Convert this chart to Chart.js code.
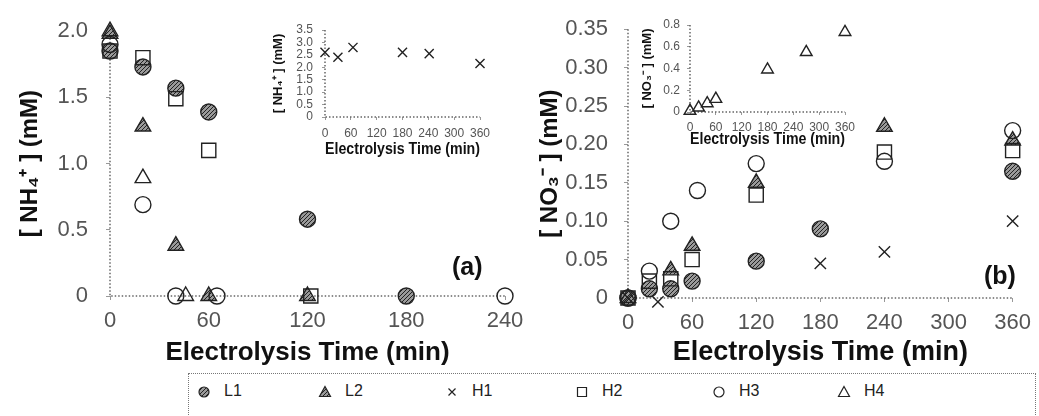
<!DOCTYPE html>
<html>
<head>
<meta charset="utf-8">
<script src="https://cdn.jsdelivr.net/npm/chart.js@4.4.1/dist/chart.umd.min.js"></script>
<style>
  body { margin: 0; background: #fff; }
  #wrap { position: relative; width: 1039px; height: 416px; overflow: hidden; font-family: "Liberation Sans", Arial, sans-serif; }
  #wrap canvas { position: absolute; }
  .tag { position: absolute; font-weight: bold; font-size: 25px; color: #111; line-height: 1; }
  #legend { position: absolute; left: 188px; top: 373px; width: 846px; height: 60px; border: 1.5px dotted #777; }
  #legend .item { position: absolute; top: 7px; height: 20px; font-size: 16px; line-height: 20px; color: #222; }
  #legend .item canvas { position: static; vertical-align: middle; margin-right: 13px; }
</style>
</head>
<body>
<div id="wrap">
  <canvas id="nh4" width="545" height="370" style="left:0;top:0"></canvas>
  <canvas id="no3" width="519" height="370" style="left:520px;top:0"></canvas>
  <canvas id="nh4in" width="235" height="150" style="left:265px;top:10px"></canvas>
  <canvas id="no3in" width="235" height="142" style="left:630px;top:8px"></canvas>
  <div class="tag" style="left:452px;top:254px">(a)</div>
  <div class="tag" style="left:984px;top:263px">(b)</div>
  <div id="legend"></div>
</div>
<script>
// panel (a): ammonium, mM vs. electrolysis time, min
var aL1_t = [0, 20, 40, 60, 120, 180];
var aL1_v = [1.85, 1.73, 1.57, 1.39, 0.58, 0];
var aL2_t = [0, 20, 40, 60, 120];
var aL2_v = [1.98, 1.28, 0.38, 0, 0];
var aH2_t = [0, 20, 40, 60, 122];
var aH2_v = [1.85, 1.8, 1.49, 1.1, 0];
var aH3_t = [0, 20, 40, 65, 240];
var aH3_v = [1.9, 0.69, 0, 0, 0];
var aH4_t = [0, 20, 46];
var aH4_v = [2.0, 0.89, 0];
// inset (a): H1 on its own scale
var aH1_t = [0, 30, 65, 180, 242, 360];
var aH1_v = [2.6, 2.4, 2.8, 2.6, 2.55, 2.15];

// panel (b): nitrate, mM
var bL1_t = [0, 20, 40, 60, 120, 180, 360];
var bL1_v = [0, 0.012, 0.012, 0.022, 0.048, 0.09, 0.165];
var bL2_t = [0, 40, 60, 120, 240, 360];
var bL2_v = [0, 0.036, 0.068, 0.15, 0.223, 0.205];
var bH1_t = [0, 28, 180, 240, 360];
var bH1_v = [0, -0.005, 0.045, 0.06, 0.1];
var bH2_t = [0, 20, 40, 60, 120, 240, 360];
var bH2_v = [0, 0.022, 0.025, 0.05, 0.134, 0.19, 0.192];
var bH3_t = [0, 20, 40, 65, 120, 240, 360];
var bH3_v = [0, 0.035, 0.1, 0.14, 0.175, 0.178, 0.218];
// inset (b): H4 on its own scale
var bH4_t = [0, 20, 40, 60, 180, 270, 360];
var bH4_v = [0.01, 0.04, 0.08, 0.12, 0.39, 0.55, 0.735];

var timeTicksA = [0, 60, 120, 180, 240];
var timeTicksB = [0, 60, 120, 180, 240, 300, 360];
var legendNames = ['L1', 'L2', 'H1', 'H2', 'H3', 'H4'];
var legendX = [196, 317, 444, 574, 711, 836];

Chart.defaults.font.family = '"Liberation Sans", Arial, sans-serif';

// grey halftone fill for the solid markers
function hatch() {
  var c = document.createElement('canvas');
  c.width = 4; c.height = 4;
  var g = c.getContext('2d');
  g.fillStyle = '#9a9a9a';
  g.fillRect(0, 0, 4, 4);
  g.fillStyle = '#222';
  for (var i = 0; i < 4; i++) g.fillRect(i, 3 - i, 1, 1);
  return g.createPattern(c, 'repeat');
}
var fill = hatch();

var styles = {
  L1: { pointStyle: 'circle', r: 8, bg: fill },
  L2: { pointStyle: 'triangle', r: 9, bg: fill },
  H1: { pointStyle: 'crossRot', r: 8, bg: 'rgba(0,0,0,0)' },
  H2: { pointStyle: 'rect', r: 10, bg: 'rgba(0,0,0,0)' },
  H3: { pointStyle: 'circle', r: 8, bg: 'rgba(0,0,0,0)' },
  H4: { pointStyle: 'triangle', r: 9, bg: 'rgba(0,0,0,0)' }
};

function series(name, t, v, scale) {
  var s = styles[name];
  return {
    label: name,
    data: t.map(function (x, i) { return { x: x, y: v[i] }; }),
    pointStyle: s.pointStyle,
    pointRadius: s.r * (scale || 1),
    pointBackgroundColor: s.bg,
    pointBorderColor: '#222',
    pointBorderWidth: 1.4,
    clip: false
  };
}

// dotted axis lines along the left and bottom of the plot area
var dottedAxes = {
  id: 'dottedAxes',
  beforeDatasetsDraw: function (chart) {
    var a = chart.chartArea, ctx = chart.ctx;
    ctx.save();
    ctx.strokeStyle = '#666';
    ctx.lineWidth = 1.5;
    ctx.setLineDash([1.5, 2]);
    ctx.beginPath();
    ctx.moveTo(a.left, a.top);
    ctx.lineTo(a.left, a.bottom);
    ctx.lineTo(a.right, a.bottom);
    ctx.stroke();
    ctx.restore();
  }
};

function fmt(d) {
  return function (v) { return v === 0 ? '0' : v.toFixed(d); };
}

function makeChart(id, datasets, o) {
  return new Chart(document.getElementById(id), {
    type: 'scatter',
    data: { datasets: datasets },
    plugins: [dottedAxes],
    options: {
      responsive: false,
      animation: false,
      devicePixelRatio: 1,
      layout: { padding: o.pad },
      plugins: { legend: { display: false }, tooltip: { enabled: false } },
      scales: {
        x: {
          type: 'linear', min: o.xMin, max: o.xMax,
          afterBuildTicks: function (s) { s.ticks = o.xTicks.map(function (v) { return { value: v }; }); },
          ticks: { color: '#555', font: { size: o.tick }, padding: o.xTickPad, maxRotation: 0, autoSkip: false },
          grid: { drawOnChartArea: false, tickLength: o.tl, color: '#999' },
          border: { display: false },
          title: { display: true, text: 'Electrolysis Time (min)', color: '#111',
                   font: { size: o.xTitle, weight: 'bold' }, padding: { top: 0, bottom: o.xTitlePad } },
          afterFit: function (s) { s.height = o.xH; }
        },
        y: {
          type: 'linear', min: o.yMin, max: o.yMax,
          ticks: { stepSize: o.yStep, callback: fmt(o.yDigits), color: '#555', font: { size: o.tick },
                   padding: o.yTickPad, autoSkip: false },
          grid: { drawOnChartArea: false, tickLength: o.tl, color: '#999' },
          border: { display: false },
          title: { display: true, text: o.yLabel, color: '#111',
                   font: { size: o.yTitle, weight: 'bold' }, padding: { top: o.yTitlePad, bottom: 0 } },
          afterFit: function (s) { s.width = o.yW; }
        }
      }
    }
  });
}

makeChart('nh4', [
  series('H3', aH3_t, aH3_v), series('H4', aH4_t, aH4_v), series('H2', aH2_t, aH2_v),
  series('L2', aL2_t, aL2_v), series('L1', aL1_t, aL1_v)
], {
  pad: { left: 0, right: 40, top: 24, bottom: 0 },
  xMin: 0, xMax: 240, xTicks: timeTicksA, yMin: 0, yMax: 2, yStep: 0.5, yDigits: 1,
  tick: 22, tl: 4, xTickPad: 8, yTickPad: 18, xTitle: 26, xTitlePad: 2, yTitle: 24, yTitlePad: 16,
  xH: 74, yW: 110, yLabel: '[ NH\u2084\u207A ] (mM)'
});

makeChart('no3', [
  series('H1', bH1_t, bH1_v), series('H3', bH3_t, bH3_v), series('H2', bH2_t, bH2_v),
  series('L2', bL2_t, bL2_v), series('L1', bL1_t, bL1_v)
], {
  pad: { left: 0, right: 22, top: 23, bottom: 0 },
  xMin: 0, xMax: 360, xTicks: timeTicksB, yMin: 0, yMax: 0.35, yStep: 0.05, yDigits: 2,
  tick: 22, tl: 4, xTickPad: 8, yTickPad: 16, xTitle: 27, xTitlePad: 1, yTitle: 24, yTitlePad: 16,
  xH: 72, yW: 108, yLabel: '[ NO\u2083\u207B ] (mM)'
});

makeChart('nh4in', [series('H1', aH1_t, aH1_v, 0.8)], {
  pad: { left: 0, right: 20, top: 20, bottom: 0 },
  xMin: 0, xMax: 360, xTicks: timeTicksB, yMin: 0, yMax: 3.5, yStep: 0.5, yDigits: 1,
  tick: 12, tl: 3, xTickPad: 6, yTickPad: 9, xTitle: 16, xTitlePad: 1, yTitle: 13, yTitlePad: 6,
  xH: 43, yW: 60, yLabel: '[ NH\u2084\u207A ] (mM)'
});

makeChart('no3in', [series('H4', bH4_t, bH4_v, 0.75)], {
  pad: { left: 0, right: 20, top: 17, bottom: 0 },
  xMin: 0, xMax: 360, xTicks: timeTicksB, yMin: 0, yMax: 0.8, yStep: 0.2, yDigits: 1,
  tick: 12, tl: 3, xTickPad: 5, yTickPad: 7, xTitle: 16, xTitlePad: 1, yTitle: 13, yTitlePad: 10,
  xH: 38, yW: 60, yLabel: '[ NO\u2083\u207B ] (mM)'
});

// legend strip along the bottom
function marker(name) {
  var c = document.createElement('canvas');
  c.width = 14; c.height = 14;
  var g = c.getContext('2d');
  var s = styles[name];
  g.fillStyle = s.bg;
  g.strokeStyle = '#222';
  g.lineWidth = 1.2;
  g.beginPath();
  if (s.pointStyle === 'circle') g.arc(7, 7, 5, 0, Math.PI * 2);
  else if (s.pointStyle === 'triangle') { g.moveTo(7, 1.5); g.lineTo(12.5, 11.5); g.lineTo(1.5, 11.5); g.closePath(); }
  else if (s.pointStyle === 'rect') g.rect(2.5, 2.5, 9, 9);
  else { g.moveTo(3.5, 3.5); g.lineTo(10.5, 10.5); g.moveTo(10.5, 3.5); g.lineTo(3.5, 10.5); }
  g.fill();
  g.stroke();
  return c;
}

var legend = document.getElementById('legend');
legendNames.forEach(function (n, i) {
  var item = document.createElement('div');
  item.className = 'item';
  item.style.left = (legendX[i] - 188) + 'px';
  item.appendChild(marker(n));
  item.appendChild(document.createTextNode(n));
  legend.appendChild(item);
});
</script>
</body>
</html>
